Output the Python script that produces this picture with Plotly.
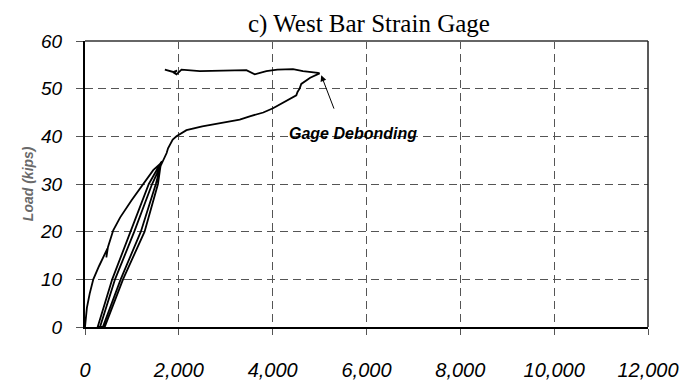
import plotly.graph_objects as go

# Strain (microstrain) and load (kips)
strain = [0, 40, 100, 177, 300, 420, 480, 455, 490, 602, 750, 993, 1200, 1454, 1600, 1640,
          1510, 1190, 760, 380,
          270, 580, 970, 1360, 1620,
          1555, 1270, 810, 420,
          320, 640, 1050, 1430, 1660,
          1700, 1740, 1770, 1809, 1870, 1950, 2000, 2163, 2500, 3000, 3298, 3511, 3800, 4007,
          4300, 4504, 4530, 4574, 4610, 4800, 5000,
          4965, 4645, 4433, 4100, 3866, 3617, 3440, 2447, 2057, 1950, 1900, 1960, 1879, 1702]
load = [0, 4, 7, 10, 12.8, 15.3, 16.5, 14.6, 16.8, 20.3, 23.0, 26.6, 29.5, 32.9, 34.2, 34.8,
        30, 20, 10, 0,
        0, 10, 20, 30, 34.5,
        30, 20, 10, 0,
        0, 10, 20, 30, 35.0,
        35.5, 36.5, 37.5, 38.2, 39.3, 40.0, 40.3, 41.3, 42.1, 43.0, 43.5, 44.2, 45.0, 45.9,
        47.5, 48.6, 49.3, 50.0, 51.0, 52.3, 53.2,
        53.3, 53.7, 54.1, 54.0, 53.7, 53.0, 53.9, 53.7, 54.0, 53.0, 53.3, 53.8, 53.5, 54.0]

x_ticks = [0, 2000, 4000, 6000, 8000, 10000, 12000]
y_ticks = [0, 10, 20, 30, 40, 50, 60]

debond_point = (5035, 52.8)
debond_tail = (5319, 45.5)
debond_label_pos = (5702, 40.6)

fig = go.Figure()
fig.add_trace(go.Scatter(x=strain, y=load, mode="lines",
                         line=dict(color="black", width=1.8), showlegend=False,
                         hoverinfo="skip"))

tickfont = dict(family="Liberation Sans, Arial", size=19, style="italic", color="black")

# page body has an 8px default margin, so the figure is sized 8px smaller
fig.update_layout(
    width=688, height=375,
    margin=dict(l=77, r=48, t=33, b=56, autoexpand=False),
    paper_bgcolor="white", plot_bgcolor="white",
    annotations=[
        dict(x=0.504, y=1, xref="paper", yref="paper", yshift=17,
             text="c) West Bar Strain Gage", showarrow=False,
             xanchor="center", yanchor="middle",
             font=dict(family="Liberation Serif, Times New Roman", size=25, color="black")),
        dict(x=debond_point[0], y=debond_point[1], xref="x", yref="y",
             ax=debond_tail[0], ay=debond_tail[1], axref="x", ayref="y",
             text="", showarrow=True, arrowhead=2, arrowsize=1.2, arrowwidth=1,
             arrowcolor="black"),
        dict(x=debond_label_pos[0], y=debond_label_pos[1], xref="x", yref="y",
             text="Gage Debonding", showarrow=False,
             font=dict(family="Liberation Sans, Arial", size=16, style="italic",
                       weight="bold", color="black")),
        dict(x=-0.101, y=0.5, xref="paper", yref="paper", text="Load (kips)",
             textangle=-90, showarrow=False, xanchor="center", yanchor="middle",
             font=dict(family="Liberation Sans, Arial", size=14, style="italic",
                       weight="bold", color="#6a6a6a")),
    ],
    xaxis=dict(range=[0, 12000], tickvals=x_ticks, tickformat=",", automargin=False,
               showgrid=True, gridcolor="#555555", griddash="8px,5px", gridwidth=1,
               showline=True, linecolor="black", linewidth=2,
               ticks="outside", ticklen=6, tickcolor="#555555", tickwidth=1,
               ticklabelstandoff=18, tickfont=dict(tickfont, size=20),
               zeroline=False, fixedrange=True),
    yaxis=dict(range=[0, 60], tickvals=y_ticks, automargin=False,
               showgrid=True, gridcolor="#555555", griddash="8px,5px", gridwidth=1,
               showline=True, linecolor="black", linewidth=2,
               ticks="outside", ticklen=7, tickcolor="#555555", tickwidth=1,
               ticklabelstandoff=10, tickfont=tickfont,
               zeroline=False, fixedrange=True),
    shapes=[
        dict(type="line", xref="paper", yref="paper", x0=0, x1=1, y0=1, y1=1,
             line=dict(color="#666666", width=2)),
        dict(type="line", xref="paper", yref="paper", x0=1, x1=1, y0=0, y1=1,
             line=dict(color="#222222", width=1.5)),
    ],
)

fig.write_html("out.html")
